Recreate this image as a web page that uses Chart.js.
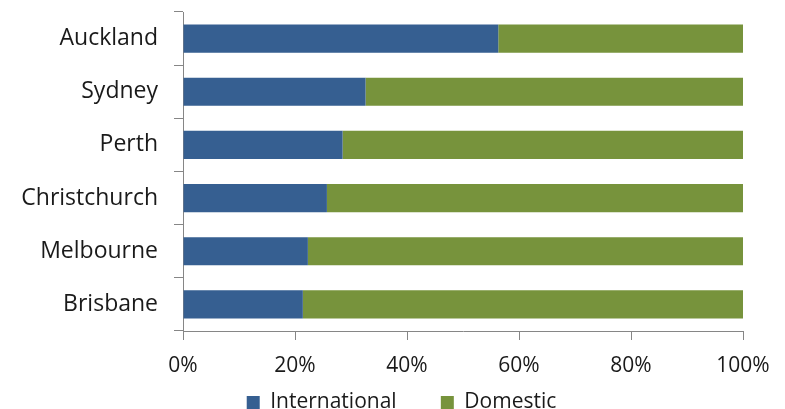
<!DOCTYPE html>
<html>
<head>
<meta charset="utf-8">
<script src="https://cdn.jsdelivr.net/npm/chart.js@4"></script>
<style>
  html, body { margin: 0; padding: 0; background: #fff; }
  #wrap { width: 785px; height: 409px; }
</style>
</head>
<body>
<div id="wrap"><canvas id="myChart"></canvas></div>
<script>
var cities = ["Auckland", "Sydney", "Perth", "Christchurch", "Melbourne", "Brisbane"];
var international = [56.3, 32.6, 28.5, 25.7, 22.3, 21.4];
var domestic = [43.7, 67.4, 71.5, 74.3, 77.7, 78.6];
var xTicks = [0, 20, 40, 60, 80, 100];

var axisColor = '#868686';
var textColor = '#1a1a1a';
var fontFamily = '"Open Sans", "Liberation Sans", sans-serif';

new Chart("myChart", {
  type: "bar",
  data: {
    labels: cities,
    datasets: [{
      label: "International",
      data: international,
      backgroundColor: '#365f91',
      barPercentage: 0.53,
      categoryPercentage: 1
    }, {
      label: "Domestic",
      data: domestic,
      backgroundColor: '#77933c',
      barPercentage: 0.53,
      categoryPercentage: 1
    }]
  },
  options: {
    indexAxis: 'y',
    responsive: true,
    maintainAspectRatio: false,
    animation: false,
    layout: {
      padding: { top: 12, right: 0, left: 18, bottom: 0 }
    },
    scales: {
      x: {
        stacked: true,
        min: 0,
        max: 100,
        afterBuildTicks: function (scale) {
          scale.ticks = xTicks.map(function (v) { return { value: v }; });
        },
        afterFit: function (scale) {
          scale.paddingRight = 42;
          scale.height = 55;
        },
        ticks: {
          callback: function (v) { return v + '%'; },
          color: textColor,
          font: { family: fontFamily, size: 21 },
          padding: 13,
          maxRotation: 0
        },
        grid: {
          drawOnChartArea: false,
          drawTicks: true,
          tickLength: 9,
          color: axisColor
        },
        border: { color: axisColor, width: 1 }
      },
      y: {
        stacked: true,
        afterFit: function (scale) {
          scale.width = 165;
          scale.paddingTop = 0;
          scale.paddingBottom = 0;
        },
        ticks: {
          color: textColor,
          font: { family: fontFamily, size: 23 },
          padding: 16
        },
        grid: {
          offset: true,
          drawOnChartArea: false,
          drawTicks: true,
          tickLength: 9,
          color: axisColor
        },
        border: { color: axisColor, width: 1 }
      }
    },
    plugins: {
      legend: {
        position: 'bottom',
        maxHeight: 23,
        labels: {
          boxWidth: 13,
          boxHeight: 13,
          padding: 6,
          color: textColor,
          font: { family: fontFamily, size: 21 },
          // wider gap after the first entry
          generateLabels: function (chart) {
            var items = Chart.defaults.plugins.legend.labels.generateLabels(chart);
            items[0].text = items[0].text + '       ';
            return items;
          }
        }
      },
      title: { display: false },
      tooltip: { enabled: false }
    }
  }
});
</script>
</body>
</html>
